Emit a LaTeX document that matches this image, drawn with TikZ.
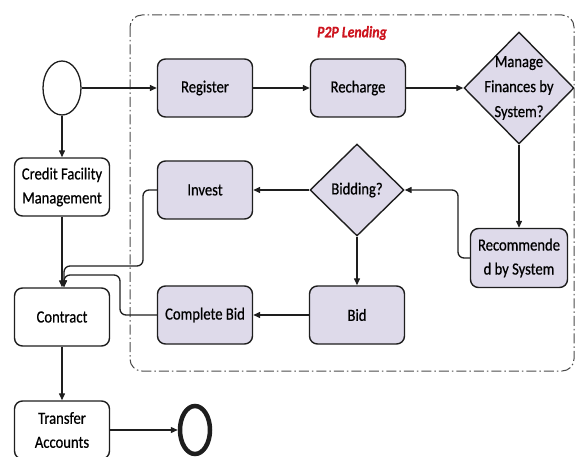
\documentclass[tikz,border=0pt]{standalone}
\usepackage{fontspec}
\setmainfont{Carlito}[FakeStretch=0.86,FakeBold=0.6]
\usetikzlibrary{shapes.geometric,arrows.meta,positioning}
\definecolor{P2PFill}{RGB}{222,218,234}
\definecolor{P2PRed}{RGB}{205,20,30}
\definecolor{P2PLine}{RGB}{30,30,30}

\begin{document}
\begin{tikzpicture}[x=1pt,y=-1pt,
  box/.style={draw=P2PLine,line width=1.4pt,rounded corners=8pt,
              minimum width=95pt,minimum height=58pt,align=center,
              font=\fontsize{17}{24}\selectfont},
  pbox/.style={box,fill=P2PFill},
  choice/.style={diamond,draw=P2PLine,line width=1.4pt,fill=P2PFill,aspect=1,inner sep=0pt},
  arr/.style={-{Triangle[length=7pt,width=6pt]},line width=1.3pt,P2PLine},
]
\useasboundingbox (0,0) rectangle (576,457);
% lending area
\draw[line width=1pt,P2PLine!80,rounded corners=12pt,
  dash pattern=on 10pt off 3pt on 1.5pt off 3pt] (130,15) rectangle (574,371);
\node[font=\fontsize{16}{18}\selectfont\bfseries\itshape,text=P2PRed] (title) at (352,33) {P2P Lending};
% nodes
\node[ellipse,draw=P2PLine,line width=1.3pt,minimum width=38pt,minimum height=54pt] (start) at (62,88) {};
\node[pbox] (register) at (205,88) {Register};
\node[pbox] (recharge) at (358,88) {Recharge};
\node[choice,minimum width=110pt,minimum height=112pt,
  label={[align=center,font=\fontsize{17}{25}\selectfont]center:Manage\\Finances by\\System?}] (manage) at (519,88) {};
\node[box,fill=white] (credit) at (62,187) {Credit Facility\\Management};
\node[pbox] (invest) at (205,190) {Invest};
\node[choice,minimum width=94pt,minimum height=92pt,font=\fontsize{17}{24}\selectfont] (bidding) at (357,190) {Bidding?};
\node[pbox,minimum width=97pt,minimum height=59pt] (recommend) at (519,258) {Recommende\\d by System};
\node[pbox] (bid) at (357,315) {Bid};
\node[pbox] (complete) at (205,315) {Complete Bid};
\node[box,fill=white] (contract) at (62,317) {Contract};
\node[box,fill=white] (transfer) at (62,430) {Transfer\\Accounts};
\node[ellipse,draw=P2PLine,line width=4.5pt,minimum width=30pt,minimum height=48pt] (finish) at (195,430) {};
% turning points
\coordinate (investturn) at (143,266);
\coordinate (completeturn) at (120,275);
\coordinate (recturn) at (458,258);
% arrows
\draw[arr] (start) -- (register);
\draw[arr] (register) -- (recharge);
\draw[arr] (recharge) -- (manage);
\draw[arr] (manage) -- (recommend);
\draw[arr,rounded corners=6pt] (recommend.west) -- (recturn) |- (bidding.east);
\draw[arr] (bidding) -- (invest);
\draw[arr] (bidding) -- (bid);
\draw[arr] (bid) -- (complete);
\draw[arr] (start) -- (credit);
\draw[arr] (credit) -- (contract);
\draw[arr,rounded corners=6pt] (invest.west) -| (investturn) -| ([xshift=2pt]contract.north);
\draw[arr,rounded corners=6pt] (complete.west) -| (completeturn) -| ([xshift=2pt]contract.north);
\draw[arr] (contract) -- (transfer);
\draw[arr] (transfer) -- (finish);
\end{tikzpicture}
\end{document}
